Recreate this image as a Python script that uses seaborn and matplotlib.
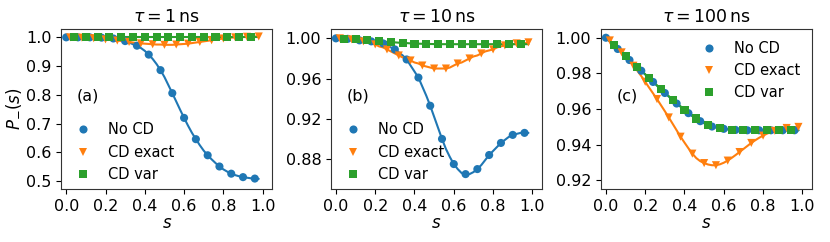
import numpy as np
import pandas as pd
import matplotlib
matplotlib.use("Agg")
import matplotlib.pyplot as plt
import seaborn as sns

# ---------------- data ----------------
s_grid = [0.00, 0.02, 0.04, 0.06, 0.08, 0.10, 0.12, 0.14, 0.16, 0.18,
          0.20, 0.22, 0.24, 0.26, 0.28, 0.30, 0.32, 0.34, 0.36, 0.38,
          0.40, 0.42, 0.44, 0.46, 0.48, 0.50, 0.52, 0.54, 0.56, 0.58,
          0.60, 0.62, 0.64, 0.66, 0.68, 0.70, 0.72, 0.74, 0.76, 0.78,
          0.80, 0.82, 0.84, 0.86, 0.88, 0.90, 0.92, 0.94, 0.96, 0.98]

series_names = ["No CD", "CD exact", "CD var"]
panel_titles = [r"$\tau = 1\,\mathrm{ns}$", r"$\tau = 10\,\mathrm{ns}$", r"$\tau = 100\,\mathrm{ns}$"]
panel_tags = ["(a)", "(b)", "(c)"]

# tau = 1 ns
a_nocd = [1.000, 1.000, 1.000, 1.000, 1.000, 1.000, 1.000, 0.999, 0.999, 0.999,
          0.998, 0.997, 0.996, 0.994, 0.991, 0.987, 0.982, 0.976, 0.971, 0.963,
          0.953, 0.940, 0.925, 0.907, 0.886, 0.862, 0.834, 0.806, 0.777, 0.748,
          0.720, 0.693, 0.668, 0.646, 0.625, 0.606, 0.590, 0.576, 0.563, 0.551,
          0.541, 0.533, 0.526, 0.521, 0.517, 0.514, 0.512, 0.510, 0.509, 0.508]
a_exact = [1.000, 1.000, 1.000, 1.000, 0.999, 0.999, 0.998, 0.997, 0.996, 0.995,
           0.993, 0.992, 0.990, 0.989, 0.987, 0.985, 0.984, 0.982, 0.980, 0.979,
           0.978, 0.977, 0.976, 0.975, 0.975, 0.974, 0.974, 0.974, 0.975, 0.976,
           0.977, 0.978, 0.980, 0.982, 0.984, 0.986, 0.988, 0.990, 0.992, 0.994,
           0.996, 0.998, 0.999, 1.000, 1.001, 1.001, 1.002, 1.002, 1.003, 1.003]
a_var = [1.000, 1.000, 1.000, 1.000, 1.000, 1.000, 1.000, 1.000, 1.000, 1.000,
         1.000, 1.000, 1.000, 1.000, 1.000, 1.000, 1.000, 1.000, 1.000, 1.000,
         1.000, 1.000, 1.000, 1.000, 1.000, 1.000, 1.000, 1.000, 1.000, 1.000,
         1.000, 1.000, 1.000, 1.000, 1.000, 1.000, 1.000, 1.000, 1.000, 1.000,
         1.000, 1.000, 1.000, 1.000, 1.000, 1.000, 1.000, 1.000, 1.000, 1.000]

# tau = 10 ns
b_nocd = [1.000, 1.000, 1.000, 0.9995, 0.999, 0.999, 0.998, 0.998, 0.998, 0.997,
          0.997, 0.996, 0.995, 0.993, 0.991, 0.989, 0.986, 0.983, 0.979, 0.973,
          0.967, 0.961, 0.952, 0.943, 0.933, 0.922, 0.911, 0.900, 0.890, 0.882,
          0.875, 0.870, 0.866, 0.865, 0.865, 0.867, 0.870, 0.874, 0.879, 0.884,
          0.888, 0.892, 0.896, 0.899, 0.902, 0.904, 0.905, 0.906, 0.906, 0.906]
b_exact = [1.000, 1.000, 1.000, 0.9995, 0.999, 0.998, 0.998, 0.997, 0.996, 0.995,
           0.994, 0.992, 0.991, 0.989, 0.987, 0.985, 0.983, 0.981, 0.980, 0.978,
           0.976, 0.975, 0.973, 0.972, 0.971, 0.970, 0.970, 0.970, 0.970, 0.971,
           0.973, 0.975, 0.976, 0.978, 0.980, 0.982, 0.983, 0.985, 0.987, 0.988,
           0.989, 0.991, 0.992, 0.993, 0.994, 0.994, 0.995, 0.995, 0.995, 0.996]
b_var = [1.000, 1.000, 0.9998, 0.9995, 0.9993, 0.999, 0.9988, 0.9985, 0.998, 0.9978,
         0.9975, 0.997, 0.9968, 0.9965, 0.9962, 0.996, 0.9957, 0.9955, 0.9953, 0.995,
         0.9948, 0.9947, 0.9946, 0.9945, 0.9944, 0.9943, 0.9942, 0.9942, 0.9942, 0.9942,
         0.9942, 0.9942, 0.9942, 0.9942, 0.9942, 0.9942, 0.9942, 0.9942, 0.9942, 0.9942,
         0.9942, 0.9942, 0.9942, 0.9942, 0.9942, 0.9942, 0.9942, 0.9942, 0.9942, 0.9942]

# tau = 100 ns
c_nocd = [1.000, 0.9979, 0.9958, 0.9937, 0.9917, 0.9896, 0.9875, 0.9855, 0.9835, 0.9815,
          0.9794, 0.9773, 0.9752, 0.9731, 0.9710, 0.9690, 0.9670, 0.9650, 0.9631, 0.9613,
          0.9595, 0.9577, 0.9560, 0.9545, 0.9532, 0.9520, 0.9510, 0.9502, 0.9496, 0.9492,
          0.9489, 0.9486, 0.9484, 0.9483, 0.9482, 0.9482, 0.9481, 0.9481, 0.9481, 0.9481,
          0.9481, 0.9481, 0.9481, 0.9481, 0.9481, 0.9481, 0.9481, 0.9481, 0.9481, 0.9481]
c_exact = [1.000, 0.9985, 0.9963, 0.9940, 0.9918, 0.9895, 0.9870, 0.9843, 0.9815, 0.9785,
           0.9753, 0.9720, 0.9688, 0.9656, 0.9622, 0.9588, 0.9553, 0.9517, 0.9481, 0.9445,
           0.9412, 0.9380, 0.9350, 0.9325, 0.9308, 0.9297, 0.9289, 0.9285, 0.9285, 0.9290,
           0.9299, 0.9311, 0.9326, 0.9342, 0.9359, 0.9376, 0.9393, 0.9410, 0.9425, 0.9439,
           0.9451, 0.9462, 0.9471, 0.9478, 0.9485, 0.9490, 0.9494, 0.9497, 0.9499, 0.9500]
c_var = [1.000, 0.9980, 0.9960, 0.9939, 0.9918, 0.9897, 0.9877, 0.9857, 0.9836, 0.9816,
         0.9795, 0.9775, 0.9754, 0.9733, 0.9712, 0.9692, 0.9672, 0.9653, 0.9634, 0.9615,
         0.9597, 0.9579, 0.9562, 0.9547, 0.9534, 0.9522, 0.9512, 0.9504, 0.9498, 0.9493,
         0.9490, 0.9487, 0.9485, 0.9484, 0.9483, 0.9482, 0.9482, 0.9481, 0.9481, 0.9481,
         0.9481, 0.9481, 0.9481, 0.9481, 0.9481, 0.9481, 0.9481, 0.9481, 0.9481, 0.9481]

panels_data = [(a_nocd, a_exact, a_var), (b_nocd, b_exact, b_var), (c_nocd, c_exact, c_var)]

y_ticks = [[0.5, 0.6, 0.7, 0.8, 0.9, 1.0],
           [0.88, 0.92, 0.96, 1.00],
           [0.92, 0.94, 0.96, 0.98, 1.00]]
y_fmt = ["{:.1f}", "{:.2f}", "{:.2f}"]
y_lims = [(0.4717, 1.029), (0.8499, 1.0093), (0.915, 1.0049)]
x_ticks = [0.0, 0.2, 0.4, 0.6, 0.8, 1.0]

# ---------------- style ----------------
sns.set_style("ticks")
plt.rcParams["font.family"] = ["DejaVu Sans"]
plt.rcParams["mathtext.fontset"] = "dejavusans"
plt.rcParams["axes.edgecolor"] = "#333333"
plt.rcParams["text.color"] = "black"
plt.rcParams["axes.labelcolor"] = "black"
plt.rcParams["xtick.color"] = "black"
plt.rcParams["ytick.color"] = "black"

palette = {"No CD": "#1f77b4", "CD exact": "#ff7f0e", "CD var": "#2ca02c"}
markers = {"No CD": "o", "CD exact": "v", "CD var": "s"}
offsets = {"No CD": 0, "CD exact": 1, "CD var": 2}

fig = plt.figure(figsize=(8.30, 2.42), dpi=100)
W, H = 830.0, 242.0
lefts = [61.3, 331.0, 601.0]
ax_w, ax_top, ax_bot = 211.0, 29.0, 189.3
legend_locs = ["lower left", "lower left", "upper right"]
legend_pads = [0.1, 0.1, 0.4]

for i in range(3):
    ax = fig.add_axes([lefts[i] / W, (H - ax_bot) / H, ax_w / W, (ax_bot - ax_top) / H])
    rows = []
    for name, vals in zip(series_names, panels_data[i]):
        for j, (sv, pv) in enumerate(zip(s_grid, vals)):
            rows.append({"s": sv, "P": pv, "series": name,
                         "mark": (j % 3) == offsets[name]})
    df = pd.DataFrame(rows)
    sns.lineplot(data=df, x="s", y="P", hue="series", palette=palette,
                 hue_order=series_names, legend=False, linewidth=1.5, ax=ax,
                 estimator=None, sort=False)
    sns.scatterplot(data=df[df["mark"]], x="s", y="P", hue="series", style="series",
                    palette=palette, markers=markers, hue_order=series_names,
                    style_order=series_names, s=34, linewidth=0, ax=ax, zorder=3)
    handles, labels = ax.get_legend_handles_labels()
    ax.legend(handles, labels, loc=legend_locs[i], frameon=False, fontsize=10.5,
              handletextpad=0.7, borderaxespad=legend_pads[i], labelspacing=0.5)
    ax.set_xlim(-0.025, 1.049)
    ax.set_ylim(*y_lims[i])
    ax.set_xticks(x_ticks)
    ax.set_xticklabels(["{:.1f}".format(t) for t in x_ticks], fontsize=11.5)
    ax.set_yticks(y_ticks[i])
    ax.set_yticklabels([y_fmt[i].format(t) for t in y_ticks[i]], fontsize=11.5)
    ax.tick_params(length=3.5, width=0.8)
    ax.set_xlabel("$s$", fontsize=12, labelpad=0)
    ax.set_ylabel("$P_{-}(s)$" if i == 0 else "", fontsize=12, labelpad=2)
    ax.set_title(panel_titles[i], fontsize=12.5, pad=5)
    ax.text(0.075, 0.58, panel_tags[i], transform=ax.transAxes, fontsize=11.5,
            va="center", ha="left")
    for sp in ax.spines.values():
        sp.set_visible(True)
        sp.set_linewidth(0.8)

fig.savefig("out.png", dpi=100)
